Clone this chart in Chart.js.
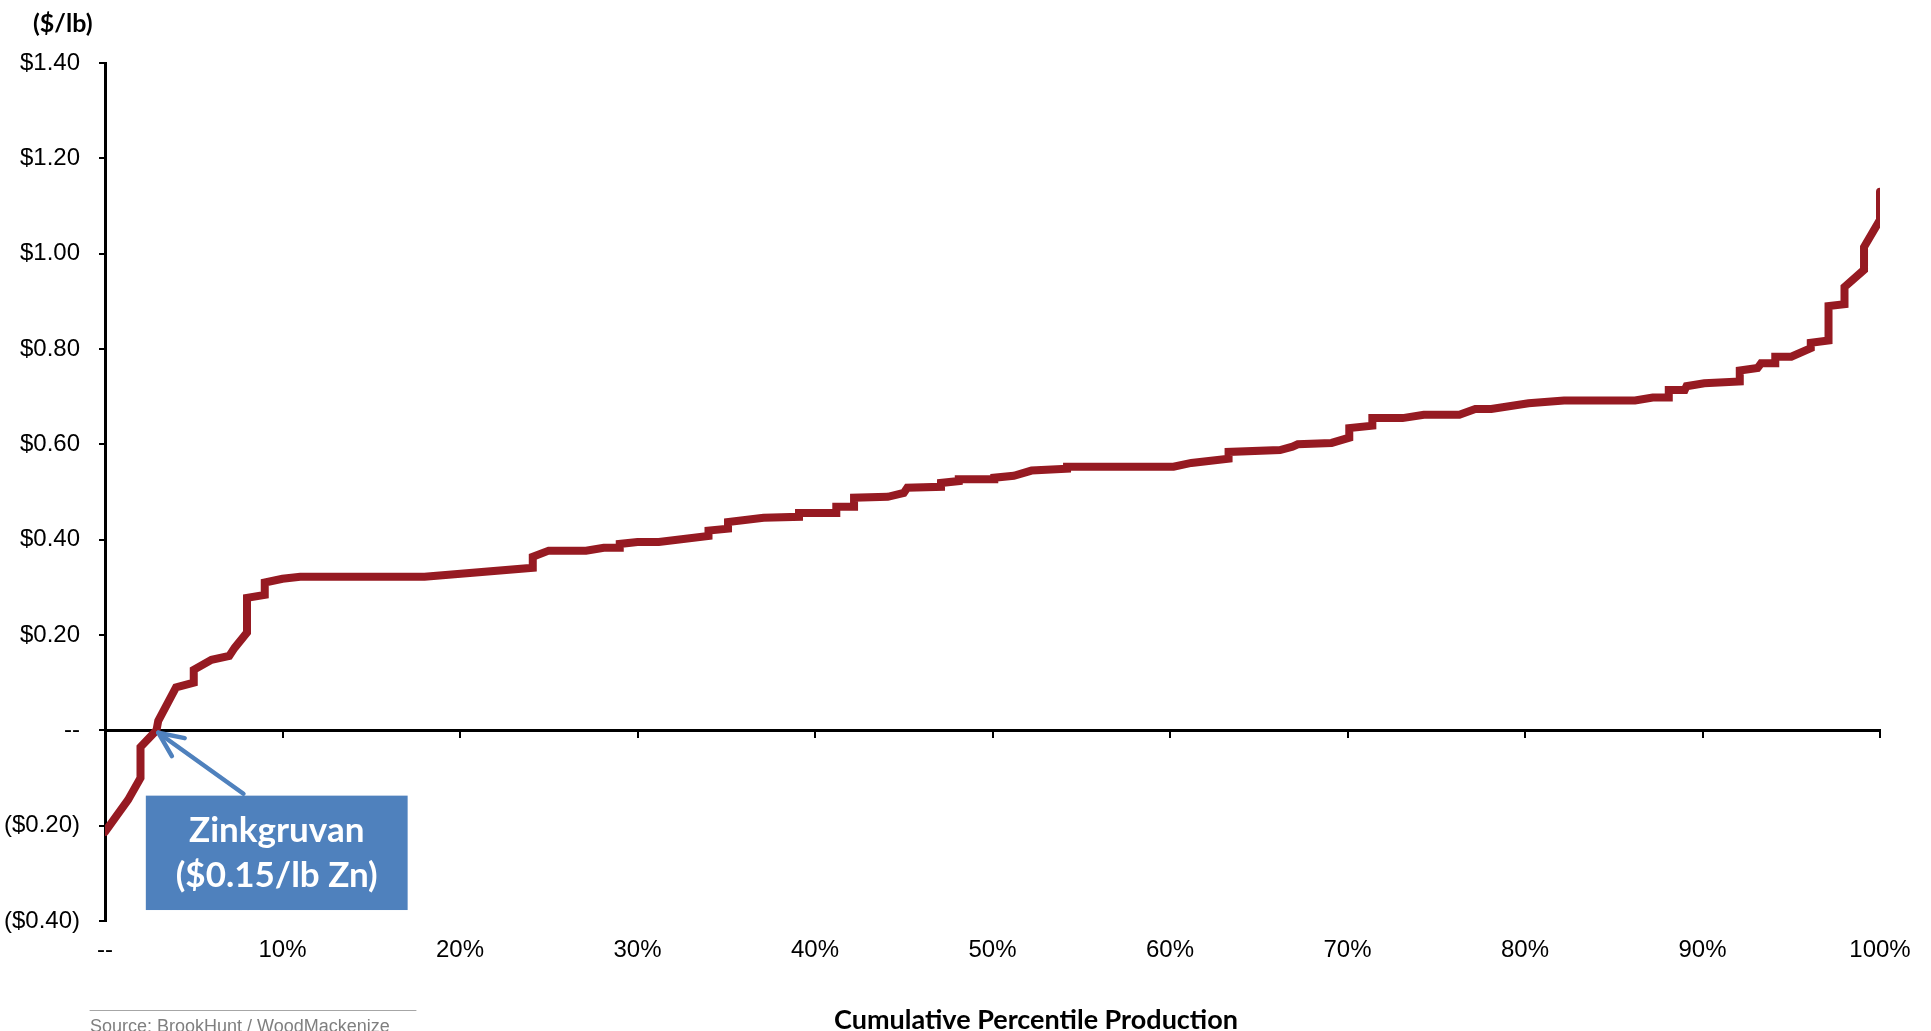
<!DOCTYPE html>
<html>
<head>
<meta charset="utf-8">
<script src="https://cdn.jsdelivr.net/npm/chart.js@4.4.0/dist/chart.umd.min.js"></script>
<style>
  html, body { margin: 0; padding: 0; background: #fff; }
  #wrap { width: 1931px; height: 1031px; }
</style>
</head>
<body>
<div id="wrap"><canvas id="costChart" width="1931" height="1031"></canvas></div>
<script>
// cumulative production percentile (%) and cash cost ($/lb)
const percentiles = [0, 1.3, 2.0, 2.0, 2.9, 3.0, 4.0, 5.0, 5.0, 6.0, 7.0, 7.3, 8.0, 8.0, 9.0, 9.0, 10.0, 11.0, 18.0,
  24.1, 24.1, 25.0, 27.1, 28.1, 29.0, 29.0, 30.0, 31.2, 34.0, 34.0, 35.1, 35.1, 37.1, 39.1, 39.1, 41.2, 41.2, 42.2, 42.2,
  44.1, 45.0, 45.2, 47.1, 47.1, 48.1, 48.1, 50.1, 50.1, 51.2, 52.2, 54.2, 54.2, 60.2, 61.2, 63.3, 63.3, 66.2, 66.9, 67.2,
  69.1, 70.1, 70.1, 71.4, 71.4, 73.1, 74.3, 76.3, 77.2, 78.1, 80.2, 82.2, 86.2, 87.2, 88.1, 88.1, 89.0, 89.1, 90.1,
  92.1, 92.1, 93.1, 93.3, 94.1, 94.1, 95.0, 96.1, 96.1, 97.1, 97.1, 98.0, 98.0, 99.1, 99.1, 100.0, 100.0];
const cashCosts = [-0.213, -0.146, -0.10, -0.035, 0.0, 0.02, 0.09, 0.10, 0.127, 0.148, 0.156, 0.173, 0.205, 0.278, 0.284, 0.31, 0.318, 0.322, 0.322,
  0.341, 0.364, 0.377, 0.377, 0.383, 0.383, 0.391, 0.395, 0.395, 0.408, 0.419, 0.423, 0.437, 0.446, 0.448, 0.456, 0.456, 0.469, 0.469, 0.488,
  0.490, 0.498, 0.509, 0.511, 0.519, 0.523, 0.527, 0.527, 0.530, 0.534, 0.545, 0.549, 0.553, 0.553, 0.561, 0.570, 0.584, 0.588, 0.595, 0.600,
  0.603, 0.614, 0.634, 0.639, 0.655, 0.655, 0.662, 0.662, 0.674, 0.674, 0.686, 0.692, 0.692, 0.698, 0.698, 0.714, 0.714, 0.722, 0.728,
  0.732, 0.755, 0.760, 0.770, 0.770, 0.784, 0.784, 0.802, 0.813, 0.818, 0.890, 0.894, 0.930, 0.966, 1.014, 1.071, 1.130];

const xTickLabels = ['--', '10%', '20%', '30%', '40%', '50%', '60%', '70%', '80%', '90%', '100%'];
const yTickLabels = ['($0.40)', '($0.20)', '--', '$0.20', '$0.40', '$0.60', '$0.80', '$1.00', '$1.20', '$1.40'];

const unitLabel = '($/lb)';
const xTitle = 'Cumulative Percentile Production';
const sourceText = 'Source: BrookHunt / WoodMackenize';

// callout: Zinkgruvan
const calloutLines = ['Zinkgruvan', '($0.15/lb Zn)'];
const calloutTip = { x: 3.0, y: -0.005 };
const calloutTail = { x: 7.8, y: -0.133 };
const calloutBox = { x0: 2.3, x1: 17.05, y0: -0.137, y1: -0.377 };

const points = percentiles.map((p, i) => ({ x: p, y: cashCosts[i] }));

const calloutPlugin = {
  id: 'callout',
  afterDraw(chart) {
    const ctx = chart.ctx;
    const x = chart.scales.x;
    const y = chart.scales.y;
    ctx.save();

    // box
    const bx0 = x.getPixelForValue(calloutBox.x0), bx1 = x.getPixelForValue(calloutBox.x1);
    const by0 = y.getPixelForValue(calloutBox.y0), by1 = y.getPixelForValue(calloutBox.y1);
    ctx.fillStyle = '#4F81BD';
    ctx.fillRect(bx0, by0, bx1 - bx0, by1 - by0);
    ctx.fillStyle = '#fff';
    ctx.font = 'bold 35px Lato';
    ctx.textAlign = 'center';
    ctx.textBaseline = 'alphabetic';
    const cx = (bx0 + bx1) / 2;
    ctx.fillText(calloutLines[0], cx, by0 + 46);
    ctx.fillText(calloutLines[1], cx, by0 + 91);

    // arrow
    const tx = x.getPixelForValue(calloutTip.x), ty = y.getPixelForValue(calloutTip.y);
    const sx = x.getPixelForValue(calloutTail.x), sy = y.getPixelForValue(calloutTail.y);
    const ang = Math.atan2(sy - ty, sx - tx);
    ctx.strokeStyle = '#4F81BD';
    ctx.lineWidth = 4.5;
    ctx.lineCap = 'round';
    ctx.lineJoin = 'round';
    ctx.beginPath();
    ctx.moveTo(sx, sy);
    ctx.lineTo(tx, ty);
    ctx.stroke();
    ctx.beginPath();
    ctx.moveTo(tx + 27 * Math.cos(ang - 0.42), ty + 27 * Math.sin(ang - 0.42));
    ctx.lineTo(tx, ty);
    ctx.lineTo(tx + 27 * Math.cos(ang + 0.42), ty + 27 * Math.sin(ang + 0.42));
    ctx.stroke();

    // unit label
    ctx.fillStyle = '#000';
    ctx.font = 'bold 25px Lato';
    ctx.textAlign = 'left';
    ctx.textBaseline = 'middle';
    ctx.fillText(unitLabel, 33, 24);

    // x axis title (sits right of centre, as in the source)
    ctx.font = 'bold 27px Lato';
    ctx.textAlign = 'center';
    ctx.textBaseline = 'alphabetic';
    ctx.fillText(xTitle, 1036, 1029);

    // source
    ctx.strokeStyle = '#a6a6a6';
    ctx.lineWidth = 1;
    ctx.beginPath();
    ctx.moveTo(90, 1010.5);
    ctx.lineTo(416, 1010.5);
    ctx.stroke();
    ctx.fillStyle = '#7f7f7f';
    ctx.font = '18px "Liberation Sans"';
    ctx.textAlign = 'left';
    ctx.textBaseline = 'top';
    ctx.fillText(sourceText, 90, 1018);
    ctx.restore();
  }
};

new Chart(document.getElementById('costChart').getContext('2d'), {
  type: 'line',
  data: {
    datasets: [{
      data: points,
      borderColor: '#961A22',
      borderWidth: 8,
      borderCapStyle: 'round',
      borderJoinStyle: 'miter',
      pointRadius: 0,
      tension: 0,
      fill: false
    }]
  },
  options: {
    responsive: false,
    devicePixelRatio: 1,
    animation: false,
    layout: { padding: { left: 0, top: 63, right: 51, bottom: 0 } },
    plugins: { legend: { display: false }, tooltip: { enabled: false } },
    scales: {
      x: {
        type: 'linear',
        position: 'bottom',
        min: 0,
        max: 100,
        grid: { display: false, drawTicks: false },
        border: { display: false },
        ticks: {
          stepSize: 10,
          autoSkip: false,
          maxRotation: 0,
          padding: 15,
          color: '#000',
          font: { family: 'Liberation Sans', size: 24 },
          callback: (v, i) => xTickLabels[i]
        },
        afterFit: (s) => { s.height = 110; }
      },
      x0: {
        type: 'linear',
        axis: 'x',
        position: { y: 0 },
        min: 0,
        max: 100,
        ticks: { display: false, stepSize: 10 },
        grid: { drawOnChartArea: false, drawTicks: true, tickLength: 6, color: '#000', lineWidth: 2 },
        border: { display: true, color: '#000', width: 3 }
      },
      y: {
        type: 'linear',
        min: -0.4,
        max: 1.4,
        grid: { drawOnChartArea: false, drawTicks: true, tickLength: 6, color: '#000', lineWidth: 2 },
        border: { display: true, color: '#000', width: 3 },
        ticks: {
          stepSize: 0.2,
          padding: 19,
          color: '#000',
          font: { family: 'Liberation Sans', size: 24 },
          callback: (v, i) => yTickLabels[i]
        },
        afterFit: (s) => { s.width = 105; }
      }
    }
  },
  plugins: [calloutPlugin]
});
</script>
</body>
</html>
